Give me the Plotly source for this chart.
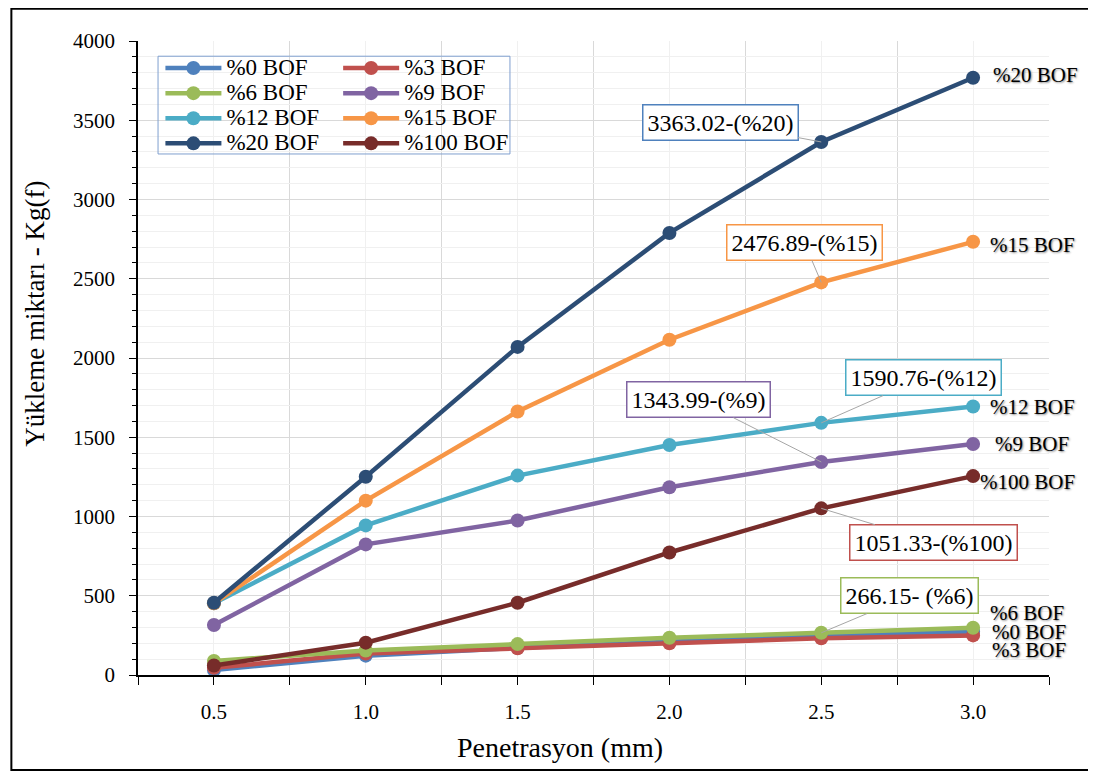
import plotly.graph_objects as go

# ---- data ----
penetration = [0.5, 1.0, 1.5, 2.0, 2.5, 3.0]
x_tick_labels = ["0.5", "1.0", "1.5", "2.0", "2.5", "3.0"]

bof0 = [32, 122, 172, 212, 248, 274]
bof3 = [45, 135, 168, 200, 232, 250]
bof6 = [88, 155, 195, 235, 266.15, 298]
bof9 = [315, 824, 975, 1185, 1343.99, 1457]
bof12 = [452, 944, 1258, 1451, 1590.76, 1694]
bof15 = [452, 1100, 1662, 2115, 2476.89, 2733]
bof20 = [456, 1251, 2070, 2789, 3363.02, 3768]
bof100 = [60, 204, 456, 773, 1051.33, 1255]

series_names = ["%0 BOF", "%3 BOF", "%6 BOF", "%9 BOF", "%12 BOF", "%15 BOF", "%20 BOF", "%100 BOF"]
series_values = [bof0, bof3, bof6, bof9, bof12, bof15, bof20, bof100]
series_colors = ["#4F81BD", "#C0504D", "#9BBB59", "#8064A2", "#4BACC6", "#F79646", "#2C4D75", "#772C2A"]
label_border_colors = ["#4F81BD", "#C0504D", "#9BBB59", "#8064A2", "#4BACC6", "#F79646", "#4F81BD", "#C0504D"]
legend_of = ["legend", "legend2", "legend", "legend2", "legend", "legend2", "legend", "legend2"]

# callout labels at 2.5 mm: (series index, text, ax, ay)
callouts = [
    (6, "3363.02-(%20)", -101, -19),
    (5, "2476.89-(%15)", -17, -40),
    (4, "1590.76-(%12)", 102, -45),
    (3, "1343.99-(%9)", -123, -62),
    (7, "1051.33-(%100)", 112, 34),
    (2, "266.15- (%6)", 88, -37),
]
# series-name labels at the last point: (series index, xshift, yshift)
end_labels = [
    (6, 18, 3), (5, 15, -3), (4, 15, 0), (3, 20, 0),
    (7, 5, -6), (2, 15, 15), (0, 17, 0), (1, 17, -15),
]

FONT = "Liberation Serif"

fig = go.Figure()
for name, vals, col, lg in zip(series_names, series_values, series_colors, legend_of):
    fig.add_trace(go.Scatter(
        x=penetration, y=vals,
        name=f"<span style='font-size:23px'>{name}</span>",
        mode="lines+markers",
        line=dict(color=col, width=4.5),
        marker=dict(color=col, size=14),
        legend=lg,
    ))

annotations = []
for idx, text, ax, ay in callouts:
    annotations.append(dict(
        x=penetration[4], y=series_values[idx][4], xref="x", yref="y",
        text=text, showarrow=True, arrowhead=0, arrowwidth=1, arrowcolor="#A6A6A6",
        ax=ax, ay=ay, standoff=0,
        font=dict(family=FONT, size=24, color="black"),
        bgcolor="white", bordercolor=label_border_colors[idx], borderwidth=1.5, borderpad=4,
    ))
for idx, xs, ys in end_labels:
    annotations.append(dict(
        x=penetration[-1], y=series_values[idx][-1], xref="x", yref="y",
        text=series_names[idx], showarrow=False, xanchor="left", yanchor="middle",
        xshift=xs, yshift=ys,
        font=dict(family=FONT, size=21, color="black", shadow="1px 1px 2px #888"),
    ))
annotations.append(dict(
    x=0.463, y=-0.115, xref="paper", yref="paper", text="Penetrasyon (mm)",
    showarrow=False, xanchor="center", yanchor="middle",
    font=dict(family=FONT, size=28, color="black"),
))
annotations.append(dict(
    x=-0.113, y=0.57, xref="paper", yref="paper", text="Yükleme miktarı - Kg(f)",
    showarrow=False, xanchor="center", yanchor="middle", textangle=-90,
    font=dict(family=FONT, size=27, color="black"),
))

shapes = [
    # legend frame
    dict(type="rect", xref="paper", yref="paper", x0=0.022, x1=0.4083, y0=0.8218, y1=0.976,
         line=dict(color="#7F9FCF", width=1), fillcolor="rgba(0,0,0,0)", layer="above"),
    # outer chart border
    dict(type="rect", xref="paper", yref="paper", x0=-0.139, x1=1.045, y0=-0.15, y1=1.051,
         line=dict(color="black", width=2), fillcolor="rgba(0,0,0,0)"),
]

legend_common = dict(
    font=dict(family=FONT, size=17, color="black"),
    bgcolor="rgba(255,255,255,0)", borderwidth=0, tracegroupgap=0,
    itemwidth=56, xanchor="left", yanchor="top", orientation="v",
)

fig.update_layout(
    width=1088, height=766,
    margin=dict(l=130, r=47, t=33, b=99),
    plot_bgcolor="white", paper_bgcolor="white",
    font=dict(family=FONT, size=21, color="black"),
    showlegend=True,
    legend=dict(x=0.0246, y=0.985, **legend_common),
    legend2=dict(x=0.2197, y=0.985, **legend_common),
    annotations=annotations,
    shapes=shapes,
    xaxis=dict(
        range=[0.25, 3.25], tickmode="array", tickvals=penetration, ticktext=x_tick_labels,
        ticks="outside", ticklen=8, tickcolor="black", tickwidth=1,
        showline=True, linecolor="black", linewidth=1.5,
        showgrid=True, gridcolor="#F0F0F0", gridwidth=1,
        tickfont=dict(family=FONT, size=21, color="black"),
        ticklabelstandoff=9,
        minor=dict(tickmode="array", tickvals=[0.25, 0.75, 1.25, 1.75, 2.25, 2.75, 3.25],
                   ticks="outside", ticklen=8, tickcolor="black",
                   showgrid=True, gridcolor="#D9D9D9", gridwidth=1),
        zeroline=False, fixedrange=True,
    ),
    yaxis=dict(
        range=[0, 4000], dtick=500, tickformat="d",
        ticks="outside", ticklen=7, tickcolor="black", tickwidth=1,
        showline=True, linecolor="black", linewidth=1.5,
        showgrid=True, gridcolor="#D9D9D9", gridwidth=1,
        tickfont=dict(family=FONT, size=21, color="black"),
        ticklabelstandoff=10,
        minor=dict(dtick=100, ticks="outside", ticklen=4, tickcolor="black",
                   showgrid=True, gridcolor="#F0F0F0", gridwidth=1),
        zeroline=False, fixedrange=True,
    ),
)

fig.write_html("out.html")
